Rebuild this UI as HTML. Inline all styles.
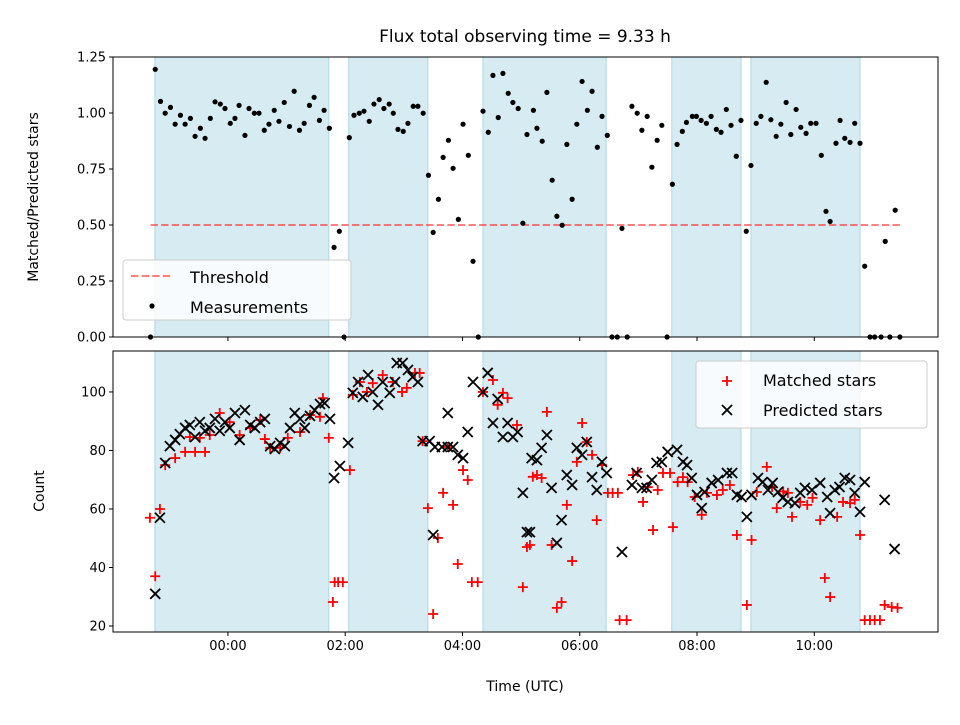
<!DOCTYPE html>
<html><head><meta charset="utf-8"><style>
html,body{margin:0;padding:0;background:#fff;}
svg text{font-family:"DejaVu Sans","Liberation Sans",sans-serif;fill:#000;}
</style></head><body>
<svg id="chart" width="960" height="720" viewBox="0 0 960 720" xmlns="http://www.w3.org/2000/svg">
<rect width="960" height="720" fill="#fff"/>
<text x="525" y="42" font-size="17" text-anchor="middle">Flux total observing time = 9.33 h</text>
<g id="gtop"></g><g id="gbot"></g>
</svg>
<script>
// shaded observing windows (hours, UTC relative to 00:00)
const spanStart = [-1.245, 2.06, 4.35, 7.57, 8.92];
const spanEnd   = [1.72, 3.41, 6.45, 8.75, 10.78];
// top panel: ratio measurements
const ratioTime = [-1.32,-1.24,-1.15,-1.07,-0.98,-0.90,-0.81,-0.73,-0.64,-0.56,-0.47,-0.39,-0.30,-0.22,-0.13,-0.05,0.04,0.12,0.19,0.29,0.36,0.45,0.53,0.62,0.70,0.79,0.87,0.96,1.05,1.13,1.22,1.30,1.39,1.47,1.56,1.64,1.73,1.81,1.90,1.98,2.07,2.15,2.24,2.32,2.41,2.49,2.58,2.66,2.75,2.82,2.90,2.99,3.07,3.16,3.24,3.33,3.42,3.50,3.59,3.67,3.76,3.84,3.93,4.01,4.10,4.18,4.27,4.35,4.44,4.52,4.61,4.69,4.78,4.86,4.95,5.03,5.10,5.21,5.27,5.36,5.44,5.53,5.61,5.70,5.78,5.87,5.95,6.04,6.13,6.21,6.30,6.38,6.47,6.55,6.64,6.72,6.81,6.89,6.98,7.06,7.15,7.23,7.32,7.40,7.49,7.58,7.66,7.75,7.82,7.92,7.99,8.07,8.16,8.24,8.33,8.41,8.50,8.58,8.67,8.75,8.84,8.92,9.01,9.09,9.18,9.26,9.35,9.43,9.52,9.60,9.69,9.77,9.86,9.94,10.03,10.12,10.20,10.27,10.37,10.44,10.52,10.61,10.69,10.78,10.86,10.95,11.03,11.14,11.21,11.29,11.38,11.46];
const ratioValue = [0,1.195,1.052,0.999,1.025,0.95,0.99,0.95,0.976,0.896,0.932,0.887,0.976,1.05,1.04,1.02,0.954,0.976,1.034,0.9,1.02,0.999,0.999,0.923,0.95,1.012,0.963,1.047,0.94,1.097,0.923,0.954,1.034,1.07,0.967,1.012,0.932,0.40,0.472,0,0.89,0.99,0.999,1.008,0.963,1.04,1.06,1.02,1.04,0.999,0.927,0.918,0.954,1.03,1.03,0.999,0.722,0.467,0.615,0.802,0.878,0.753,0.525,0.95,0.811,0.338,0,1.008,0.914,1.168,0.98,1.177,1.088,1.047,1.02,0.508,0.904,1.012,0.932,0.874,1.092,0.70,0.539,0.499,0.86,0.615,0.95,1.141,1.012,1.097,0.847,0.985,0.9,0,0,0.485,0,1.03,0.999,0.923,0.985,0.758,0.878,0.945,0,0.682,0.86,0.918,0.958,0.985,0.985,0.967,0.954,0.985,0.927,0.914,1.016,0.945,0.807,0.967,0.472,0.766,0.954,0.985,1.137,0.97,0.896,0.95,1.047,0.904,1.016,0.936,0.909,0.954,0.954,0.811,0.561,0.516,0.865,0.967,0.887,0.869,0.954,0.865,0.316,0,0,0,0.427,0,0.566,0];
const threshold = 0.5;
// bottom panel: predicted stars
const predTime = [-1.24,-1.16,-1.07,-0.99,-0.90,-0.82,-0.73,-0.65,-0.56,-0.48,-0.39,-0.31,-0.22,-0.14,-0.05,0.03,0.12,0.20,0.29,0.38,0.46,0.55,0.63,0.72,0.80,0.89,0.97,1.06,1.14,1.23,1.31,1.40,1.48,1.57,1.65,1.74,1.81,1.91,2.05,2.13,2.22,2.30,2.39,2.47,2.56,2.64,2.76,2.85,2.88,2.98,3.07,3.15,3.24,3.32,3.44,3.50,3.53,3.65,3.75,3.75,3.84,3.92,4.01,4.09,4.18,4.35,4.43,4.52,4.60,4.69,4.77,4.86,4.94,5.03,5.10,5.15,5.18,5.27,5.35,5.44,5.52,5.61,5.69,5.78,5.87,5.95,6.04,6.12,6.21,6.29,6.38,6.46,6.72,6.89,6.97,7.06,7.14,7.23,7.31,7.40,7.50,7.66,7.76,7.83,7.91,8.00,8.08,8.13,8.25,8.36,8.51,8.60,8.68,8.76,8.85,8.93,9.04,9.12,9.21,9.29,9.38,9.46,9.55,9.67,9.76,9.84,9.96,10.10,10.22,10.27,10.35,10.43,10.52,10.61,10.69,10.78,10.86,11.20,11.37];
const predicted = [31,57,75.7,81.5,83.6,85.6,87.7,88.7,84.6,89.7,86.7,87.7,90.8,86.7,89.7,87.7,92.8,83.6,93.8,88.7,87.7,89.7,90.8,81.5,80.5,82.6,81.5,87.7,92.8,90.8,87.7,91.8,93.8,95.9,96.2,90.8,70.6,74.7,82.6,99.7,103.4,98.3,105.8,100,95.6,103.4,99.7,103.4,109.9,109.9,107.5,105.1,103.4,83.2,83.2,51.1,81.2,81.2,81.2,92.8,81.2,78.5,77.4,86.3,103.4,100,106.5,89.4,97.6,84.6,89.4,84.6,86.3,65.5,52.1,52.1,77.4,76.7,80.9,85.3,67.2,48.4,56.2,71.6,68.2,80.9,78.5,82.9,70.9,66.5,76.1,72.3,45.3,68.2,72.3,67.2,67.2,69.9,75.7,76.1,79.5,80.2,76.1,75,70.6,64.8,60.3,65.8,68.9,69.9,72.3,72.3,64.8,64.1,57.3,64.8,70.6,69.2,66.5,68.9,65.8,63.8,62.4,62,65.5,67.2,66.5,68.9,64.1,58.6,66.5,67.5,70.6,69.9,65.5,59,69.2,63.1,46.3];
// bottom panel: matched stars
const matchTime = [-1.33,-1.24,-1.16,-1.07,-0.90,-0.73,-0.65,-0.56,-0.48,-0.39,-0.31,-0.14,0.03,0.20,0.38,0.55,0.63,0.72,0.89,1.02,1.23,1.40,1.57,1.62,1.72,1.79,1.82,1.88,1.96,2.08,2.13,2.25,2.37,2.47,2.64,2.81,2.97,3.05,3.19,3.27,3.32,3.41,3.50,3.58,3.67,3.75,3.84,3.92,4.01,4.09,4.16,4.26,4.35,4.52,4.60,4.69,4.77,4.93,5.03,5.10,5.20,5.15,5.27,5.35,5.44,5.52,5.61,5.69,5.78,5.87,5.95,6.04,6.12,6.21,6.29,6.38,6.48,6.56,6.65,6.68,6.80,6.91,6.99,7.08,7.16,7.25,7.33,7.42,7.54,7.59,7.67,7.76,7.84,7.96,8.08,8.17,8.34,8.44,8.56,8.68,8.85,8.93,9.02,9.19,9.28,9.36,9.47,9.55,9.62,9.76,9.88,9.97,10.10,10.18,10.27,10.39,10.49,10.61,10.69,10.78,10.86,10.95,11.03,11.12,11.20,11.32,11.42];
const matched = [57,37,60,75,77.4,79.5,84.6,79.5,84.3,79.5,85.3,92.8,89.7,85.3,87.7,90.4,83.9,80.9,80.9,84.3,86.3,92.1,91.5,97.9,84.3,28.2,35,35,35,73.3,99,103.4,100,103,105.8,103.4,100,101.4,106.5,106.5,83.2,60.3,24.1,50.1,65.5,81.2,61.4,41.2,73.3,69.9,35,35,100,104.1,95.6,99.7,97.9,88.7,33.3,47,71,47.7,71.6,70.6,93.2,47.7,26.2,28.2,61.4,42.2,76.1,89.4,82.9,78.5,56.2,75,65.5,65.5,65.5,22,22,71.6,72.7,62.4,67.5,52.8,66.5,72.3,72.3,53.8,69.2,70.9,69.2,64.1,58,65.5,64.8,66.5,68.2,51.1,27.2,49.4,65.8,74.4,67.5,60.3,66,65.5,57.3,62.4,61.4,63.8,56.2,36.4,29.9,57.3,62.4,62,63.1,51.1,22,22,22,22,27.2,26.5,26.2];
const xTicks = [0,2,4,6,8,10];
const xTickLabels = ["00:00","02:00","04:00","06:00","08:00","10:00"];
const topTicks = [0,0.25,0.5,0.75,1.0,1.25];
const topTickLabels = ["0.00","0.25","0.50","0.75","1.00","1.25"];
const botTicks = [20,40,60,80,100];
const botTickLabels = ["20","40","60","80","100"];

const NS="http://www.w3.org/2000/svg";
const L=113,R=938;
const xMin=-1.96,xMax=12.11;
function X(h){return L+(h-xMin)/(xMax-xMin)*(R-L);}
const T0=57,T1=337; function YT(v){return T1-(v-0)/(1.25-0)*(T1-T0);}
const B0=351,B1=632, bMin=17.95,bMax=114.0; function YB(v){return B1-(v-bMin)/(bMax-bMin)*(B1-B0);}
function mk(p,tag,a){const e=document.createElementNS(NS,tag);for(const k in a)e.setAttribute(k,a[k]);p.appendChild(e);return e;}
const gTop=document.getElementById('gtop'),gBot=document.getElementById('gbot');

function panel(g,y0,y1,nm){
  for(let i=0;i<spanStart.length;i++){
    const r=mk(g,'rect',{x:X(spanStart[i]),y:y0,width:X(spanEnd[i])-X(spanStart[i]),height:y1-y0,fill:'#add8e6','fill-opacity':0.5,stroke:'#add8e6','stroke-width':1});
    
    
  }
}
function frame(g,y0,y1,nm,ticks,labels,Y,showX){
  const f=mk(g,'rect',{x:L,y:y0,width:R-L,height:y1-y0,fill:'none',stroke:'#000','stroke-width':1});
  
  
  for(let i=0;i<xTicks.length;i++){
    const x=X(xTicks[i]);
    mk(g,'line',{x1:x,x2:x,y1:y1,y2:y1+4,stroke:'#000'});
    if(showX){const t=mk(g,'text',{x:x,y:y1+18,'font-size':13,'text-anchor':'middle'});t.textContent=xTickLabels[i];
      
      }
  }
  for(let i=0;i<ticks.length;i++){
    const y=Y(ticks[i]);
    mk(g,'line',{x1:L-4,x2:L,y1:y,y2:y,stroke:'#000'});
    const t=mk(g,'text',{x:L-7,y:y+4.5,'font-size':13,'text-anchor':'end'});t.textContent=labels[i];
    
    
  }
}
panel(gTop,T0,T1,'top');
panel(gBot,B0,B1,'bottom');
const tmin=Math.min(...ratioTime),tmax=Math.max(...ratioTime);
const th=mk(gTop,'line',{x1:X(tmin),x2:X(tmax),y1:YT(threshold),y2:YT(threshold),stroke:'#ff0000','stroke-opacity':0.5,'stroke-width':2,'stroke-dasharray':'7.4,3.2'});


for(let i=0;i<ratioTime.length;i++){
  const c=mk(gTop,'circle',{cx:X(ratioTime[i]),cy:YT(ratioValue[i]),r:2.6,fill:'#000'});
  
  
}
for(let i=0;i<matchTime.length;i++){
  const x=X(matchTime[i]),y=YB(matched[i]);
  const p=mk(gBot,'path',{d:`M${x-5} ${y}H${x+5}M${x} ${y-5}V${y+5}`,stroke:'#ff0000','stroke-width':1.8});
  
  
}
for(let i=0;i<predTime.length;i++){
  const x=X(predTime[i]),y=YB(predicted[i]);
  const p=mk(gBot,'path',{d:`M${x-5} ${y-5}L${x+5} ${y+5}M${x-5} ${y+5}L${x+5} ${y-5}`,stroke:'#000','stroke-width':1.8});
  
  
}
frame(gTop,T0,T1,'top',topTicks,topTickLabels,YT,false);
frame(gBot,B0,B1,'bottom',botTicks,botTickLabels,YB,true);

let t=mk(gTop,'text',{x:38,y:197,'font-size':14,'text-anchor':'middle',transform:'rotate(-90 38 197)'});t.textContent='Matched/Predicted stars';


t=mk(gBot,'text',{x:44,y:491,'font-size':14,'text-anchor':'middle',transform:'rotate(-90 44 491)'});t.textContent='Count';


t=mk(gBot,'text',{x:525,y:691,'font-size':14,'text-anchor':'middle'});t.textContent='Time (UTC)';



let lg=mk(gTop,'g',{});


mk(lg,'rect',{x:123,y:260,width:228,height:60,rx:3,fill:'#fff','fill-opacity':0.8,stroke:'#ccc'});
mk(lg,'line',{x1:131,x2:173,y1:276,y2:276,stroke:'#ff0000','stroke-opacity':0.5,'stroke-width':2,'stroke-dasharray':'7.4,3.2'});
t=mk(lg,'text',{x:190,y:283,'font-size':16});t.textContent='Threshold';


mk(lg,'circle',{cx:152,cy:306,r:2.6,fill:'#000'});
t=mk(lg,'text',{x:190,y:313,'font-size':16});t.textContent='Measurements';



lg=mk(gBot,'g',{});


mk(lg,'rect',{x:696,y:361,width:231,height:67,rx:3,fill:'#fff','fill-opacity':0.8,stroke:'#ccc'});
mk(lg,'path',{d:'M722 381H732M727 376V386',stroke:'#ff0000','stroke-width':1.8});
t=mk(lg,'text',{x:763,y:386,'font-size':16});t.textContent='Matched stars';


mk(lg,'path',{d:'M722 405L732 415M722 415L732 405',stroke:'#000','stroke-width':1.8});
t=mk(lg,'text',{x:763,y:416,'font-size':16});t.textContent='Predicted stars';


</script>
</body></html>
